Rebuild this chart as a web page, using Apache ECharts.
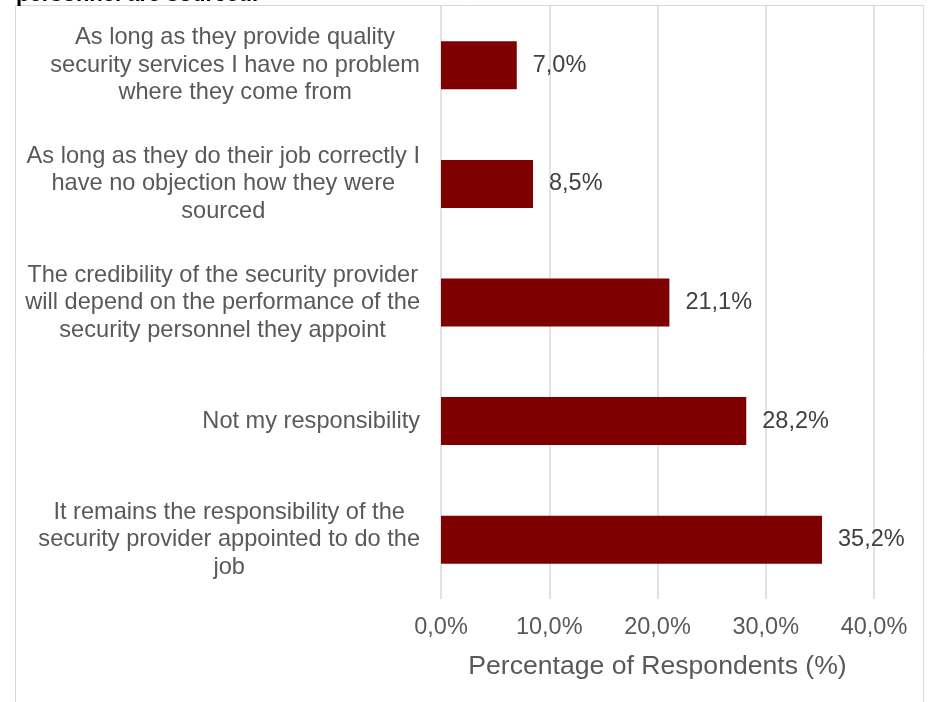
<!DOCTYPE html>
<html>
<head>
<meta charset="utf-8">
<script src="https://cdn.jsdelivr.net/npm/echarts@6/dist/echarts.min.js"></script>
<style>
html,body{margin:0;padding:0;background:#fff;}
#chart{width:930px;height:702px;}
</style>
</head>
<body>
<div id="chart"></div>
<script>
const categories = [
  "As long as they provide quality\nsecurity services I have no problem\nwhere they come from",
  "As long as they do their job correctly I\nhave no objection how they were\nsourced",
  "The credibility of the security provider\nwill depend on the performance of the\nsecurity personnel they appoint",
  "Not my responsibility",
  "It remains the responsibility of the\nsecurity provider appointed to do the\njob"
];
const values = [7.0, 8.5, 21.1, 28.2, 35.2];
const xTicks = [0, 10, 20, 30, 40];
const axisTitle = "Percentage of Respondents (%)";
const titleFragment = "personnel are sourced.";

const FONT = "'Liberation Sans', Arial, sans-serif";
const chart = echarts.init(document.getElementById('chart'));
const fmt = v => v.toFixed(1).replace('.', ',') + '%';

chart.setOption({
  animation: false,
  backgroundColor: '#ffffff',
  textStyle: { fontFamily: FONT },
  graphic: [
    { type: 'line', shape: { x1: 15.5, y1: 5.5, x2: 923.5, y2: 5.5 }, style: { stroke: '#d9d9d9', lineWidth: 1 } },
    { type: 'line', shape: { x1: 15.5, y1: 5.5, x2: 15.5, y2: 702 }, style: { stroke: '#d9d9d9', lineWidth: 1 } },
    { type: 'line', shape: { x1: 923.5, y1: 5.5, x2: 923.5, y2: 702 }, style: { stroke: '#d9d9d9', lineWidth: 1 } },
    { type: 'text', left: 16, top: -16, style: { text: titleFragment, font: "bold 22px 'Liberation Sans', Arial, sans-serif", fill: '#000000' } }
  ],
  grid: { left: 441, right: 56, top: 6, bottom: 103, containLabel: false },
  xAxis: {
    type: 'value',
    min: xTicks[0],
    max: xTicks[xTicks.length - 1],
    interval: 10,
    axisLine: { show: false },
    axisTick: { show: false },
    splitLine: { show: true, lineStyle: { color: '#d9d9d9', width: 1.5 } },
    axisLabel: { formatter: v => fmt(v), color: '#595959', fontSize: 23.5, margin: 17, fontFamily: FONT },
    name: axisTitle,
    nameLocation: 'middle',
    nameGap: 54,
    nameTextStyle: { color: '#595959', fontSize: 26.6, fontFamily: FONT }
  },
  yAxis: {
    type: 'category',
    data: categories,
    inverse: true,
    axisLine: { show: false },
    axisTick: { show: false },
    splitLine: { show: false },
    axisLabel: {
      margin: 21,
      align: 'right',
      formatter: v => v.split('\n').map(l => '{c|' + l + '}').join('\n'),
      rich: { c: { align: 'center', fontSize: 23.6, lineHeight: 27.5, color: '#595959', fontFamily: FONT } }
    }
  },
  series: [{
    type: 'bar',
    data: values,
    barWidth: 48,
    itemStyle: { color: '#7f0000' },
    label: {
      show: true,
      position: 'right',
      distance: 16,
      formatter: p => fmt(p.value),
      color: '#404040',
      fontSize: 23.5,
      fontFamily: FONT
    }
  }]
});
</script>
</body>
</html>
